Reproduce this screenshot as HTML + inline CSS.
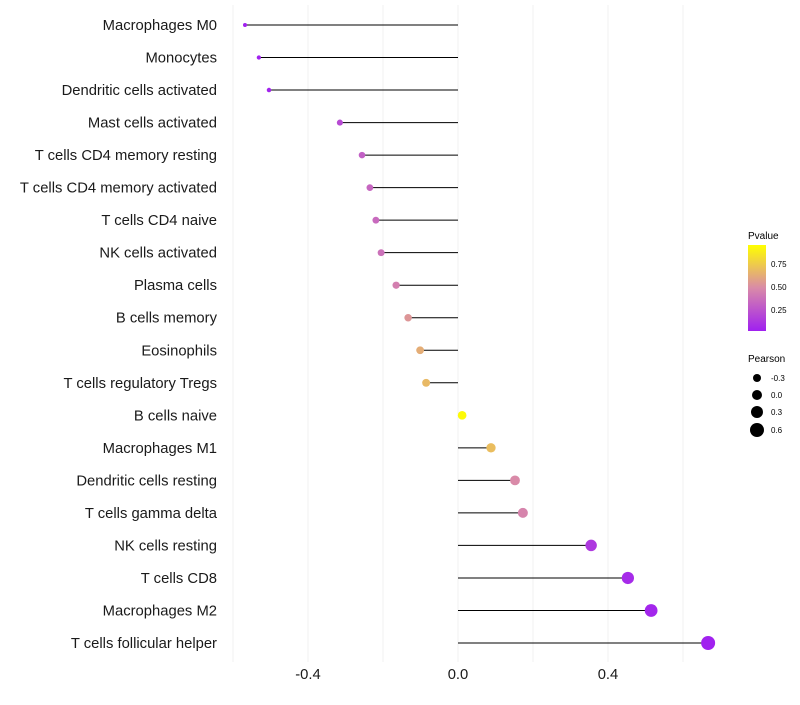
<!DOCTYPE html>
<html><head><meta charset="utf-8"><style>
body{margin:0;background:#fff;font-family:"Liberation Sans",sans-serif}
</style></head><body>
<svg id="chart" width="800" height="700" xmlns="http://www.w3.org/2000/svg">
<defs><linearGradient id="pg" x1="0" y1="1" x2="0" y2="0">
<stop offset="0" stop-color="#A020F0"/><stop offset="0.5" stop-color="#D98AA8"/><stop offset="1" stop-color="#FFFF00"/></linearGradient></defs>
<g id="grid"></g>
<g id="marks"></g>
<g id="labels"></g>
<g id="xt"></g>
<g>
<text x="748" y="239" font-size="10">Pvalue</text>
<rect x="748" y="245" width="18" height="86" fill="url(#pg)"/>
<text x="771" y="267" font-size="8">0.75</text>
<text x="771" y="290" font-size="8">0.50</text>
<text x="771" y="313" font-size="8">0.25</text>
</g>
<g>
<text x="748" y="362" font-size="10">Pearson</text>
<circle cx="757" cy="378" r="4"/>
<circle cx="757" cy="395" r="5"/>
<circle cx="757" cy="412" r="6"/>
<circle cx="757" cy="430" r="7"/>
<text x="771" y="381" font-size="8">-0.3</text>
<text x="771" y="398" font-size="8">0.0</text>
<text x="771" y="415" font-size="8">0.3</text>
<text x="771" y="433" font-size="8">0.6</text>
</g>
</svg>
<script>
const categories=["Macrophages M0","Monocytes","Dendritic cells activated","Mast cells activated","T cells CD4 memory resting","T cells CD4 memory activated","T cells CD4 naive","NK cells activated","Plasma cells","B cells memory","Eosinophils","T cells regulatory  Tregs ","B cells naive","Macrophages M1","Dendritic cells resting","T cells gamma delta","NK cells resting","T cells CD8","Macrophages M2","T cells follicular helper"];
const pearson=[-0.568,-0.531,-0.504,-0.315,-0.256,-0.235,-0.219,-0.205,-0.165,-0.133,-0.101,-0.085,0.011,0.088,0.152,0.173,0.355,0.453,0.515,0.667];
const pvalue=[0.01,0.01,0.02,0.2,0.3,0.33,0.35,0.38,0.45,0.55,0.65,0.7,0.98,0.72,0.5,0.47,0.12,0.05,0.03,0.01];
const xTicks=[-0.4,0.0,0.4];
const xTickLabels=["-0.4","0.0","0.4"];
const gridVals=[-0.6,-0.4,-0.2,0,0.2,0.4,0.6];
const NS="http://www.w3.org/2000/svg";
const x=v=>458+v*375;
const y=i=>25+i*(643-25)/(categories.length-1);
const rad=v=>4.3+4.05*v;
function lerp(a,b,t){return a.map((c,k)=>Math.round(c+(b[k]-c)*t));}
function color(p){const A=[160,32,240],M=[217,138,168],B=[255,255,0];
 const c=p<0.5?lerp(A,M,p/0.5):lerp(M,B,(p-0.5)/0.5);return `rgb(${c})`;}
function mk(tag,attrs,parent){const e=document.createElementNS(NS,tag);for(const k in attrs)e.setAttribute(k,attrs[k]);parent.appendChild(e);return e;}
const grid=document.getElementById('grid'),marks=document.getElementById('marks'),labels=document.getElementById('labels'),xt=document.getElementById('xt');
gridVals.forEach(g=>{const l=mk('line',{x1:x(g),x2:x(g),y1:5,y2:662,stroke:'#f2f2f2','stroke-width':1},grid);

});
categories.forEach((c,i)=>{
 const l=mk('line',{x1:x(0),x2:x(pearson[i]),y1:y(i),y2:y(i),stroke:'#000','stroke-width':1},marks);
 
 
 const ci=mk('circle',{cx:x(pearson[i]),cy:y(i),r:rad(pearson[i]),fill:color(pvalue[i])},marks);
 
 
 const t=mk('text',{x:217,y:y(i)+5,'text-anchor':'end','font-size':14.8,fill:'#1a1a1a'},labels);
 t.textContent=c;
 
 
});
xTicks.forEach((v,i)=>{const t=mk('text',{x:x(v),y:679,'text-anchor':'middle','font-size':14.8,fill:'#1a1a1a'},xt);
t.textContent=xTickLabels[i];

});
</script>
</body></html>
